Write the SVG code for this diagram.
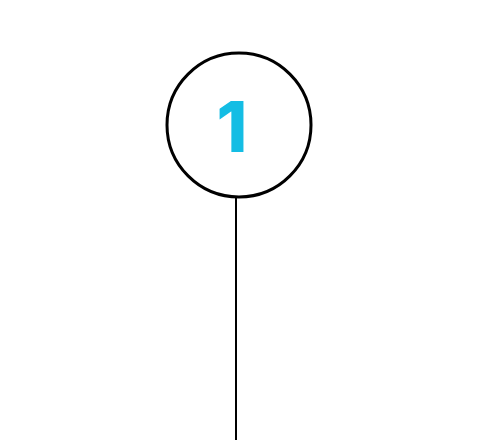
<svg xmlns="http://www.w3.org/2000/svg" width="478" height="440" viewBox="0 0 478 440">
<style>
.node{fill:#ffffff;stroke:#000000;stroke-width:3}
.num{font-family:Inter,"Open Sans","Liberation Sans",sans-serif;font-weight:800;font-size:70px;fill:#14bde4;text-anchor:middle}
.conn{stroke:#000000;stroke-width:2;fill:none}
</style>
<rect width="478" height="440" fill="#ffffff"/>
<g id="connectors">
<line class="conn" x1="236" y1="197" x2="236" y2="440"/>
</g>
<g id="node1">
<circle class="node" cx="239" cy="125" r="72"/>
<text class="num" x="232" y="152">1</text>
</g>
</svg>
